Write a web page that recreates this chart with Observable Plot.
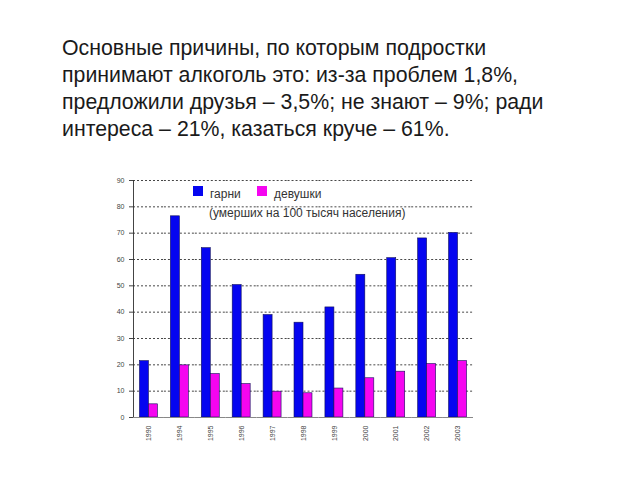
<!DOCTYPE html>
<html><head><meta charset="utf-8">
<script src="https://cdn.jsdelivr.net/npm/d3@7"></script>
<script src="https://cdn.jsdelivr.net/npm/@observablehq/plot@0.6"></script>
<style>
body{margin:0;background:#fff;font-family:"Liberation Sans",Arial,sans-serif;}
#wrap{position:relative;width:640px;height:480px;overflow:hidden;}
#title{position:absolute;left:62px;top:35px;font-size:21.3px;line-height:27px;color:#1a1a1a;white-space:nowrap;}
#chart{position:absolute;left:0;top:170px;}
.leg{position:absolute;font-size:12px;color:#333;white-space:nowrap;}
.sw{position:absolute;width:10px;height:10px;}
</style></head>
<body><div id="wrap">
<div id="title">Основные причины, по которым подростки<br>принимают алкоголь это: из-за проблем 1,8%,<br>предложили друзья – 3,5%; не знают – 9%; ради<br>интереса – 21%, казаться круче – 61%.</div>
<div id="chart"></div>
<div id="legend"></div>
</div>
<script>
const years = ["1990","1994","1995","1996","1997","1998","1999","2000","2001","2002","2003"];
const boys  = [21.4, 76.4, 64.3, 50.3, 38.9, 36.0, 41.8, 54.2, 60.5, 68.0, 70.1];
const girls = [5.0, 19.8, 16.5, 12.7, 9.8, 9.2, 11.0, 14.9, 17.4, 20.3, 21.4];
const series = ["гарни", "девушки"];
const colors = ["#0505f0", "#f505f0"];
const yTicks = [0, 10, 20, 30, 40, 50, 60, 70, 80, 90];
const subtitle = "(умерших на 100 тысяч населения)";

const data = years.flatMap((yr, i) => [
  {year: yr, series: series[0], value: boys[i]},
  {year: yr, series: series[1], value: girls[i]}
]);

const chart = Plot.plot({
  width: 640, height: 290,
  marginLeft: 133, marginRight: 167, marginTop: 10, marginBottom: 43,
  style: {fontFamily: "Liberation Sans, Arial, sans-serif", fontSize: "7px", color: "#444", background: "white", overflow: "visible"},
  fx: {domain: years, padding: 0, round: false, label: null, axis: "bottom", tickRotate: -90, tickSize: 0, tickPadding: 8},
  x: {domain: series, axis: null, paddingInner: 0, paddingOuter: 0.72, round: false},
  y: {domain: [0, 90], ticks: yTicks, label: null, tickSize: 4, tickPadding: 5, line: true},
  color: {domain: series, range: colors},
  marks: [
    Plot.gridY(yTicks.filter(d => d > 0), {stroke: "#333", strokeOpacity: 0.9, strokeDasharray: "2,2"}),
    Plot.barY(data, {fx: "year", x: "series", y: "value", fill: "series", stroke: "#10105a", strokeWidth: 0.6}),
    Plot.ruleY([0], {stroke: "#888"})
  ]
});
document.getElementById("chart").appendChild(chart);

const leg = document.getElementById("legend");
leg.innerHTML =
  `<div class="sw" style="left:193px;top:186px;background:${colors[0]}"></div>` +
  `<div class="leg" style="left:210px;top:187px">${series[0]}</div>` +
  `<div class="sw" style="left:257px;top:186px;background:${colors[1]}"></div>` +
  `<div class="leg" style="left:274px;top:187px">${series[1]}</div>` +
  `<div class="leg" style="left:209px;top:206px">${subtitle}</div>`;
</script>
</body></html>
